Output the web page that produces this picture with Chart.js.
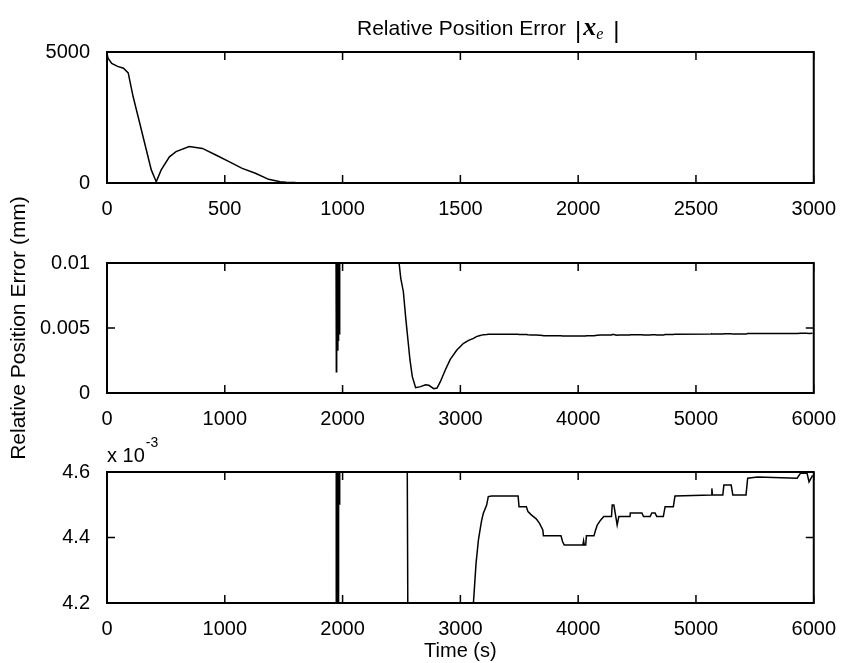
<!DOCTYPE html>
<html>
<head>
<meta charset="utf-8">
<script src="https://cdn.jsdelivr.net/npm/chart.js@4/dist/chart.umd.min.js"></script>
<style>
body { margin: 0; background: #fff; }
#wrap { position: relative; width: 842px; height: 663px; }
#wrap canvas { position: absolute; left: 0; top: 0; }
</style>
</head>
<body>
<div id="wrap">
<canvas id="topChart" width="842" height="663"></canvas>
<canvas id="midChart" width="842" height="663"></canvas>
<canvas id="lowChart" width="842" height="663"></canvas>
</div>
<script>
// one time series (s) and its error (mm), shown at three zoom levels
var timeS = [
    0, 5, 20, 45, 70, 90, 111, 139, 167, 188, 209, 230, 265, 293, 349, 405, 462, 518, 574, 630, 686, 735,
    760, 800, 900, 1000, 1200, 1500, 1800, 1940,
    1944, 1947, 1950, 1955, 1960, 1966, 1970, 1974, 1977,
    2100, 2300, 2470,
    2480, 2494, 2516, 2535, 2555, 2572, 2592, 2620, 2662, 2704, 2732, 2774, 2802, 2830, 2872, 2914, 2970, 3027, 3070, 3111,
    3133, 3153, 3167, 3181, 3195, 3223, 3237, 3265, 3490, 3498, 3560, 3574, 3602, 3644, 3672, 3700, 3705, 3854, 3868, 3882,
    4040, 4046, 4052, 4064, 4070, 4134, 4148, 4162, 4190, 4218, 4283, 4289, 4303, 4317, 4331, 4345, 4440, 4443, 4541, 4555,
    4611, 4625, 4653, 4667, 4723, 4738, 4808, 4822, 5131, 5135, 5140, 5228, 5237, 5299, 5313, 5425, 5439, 5523, 5859, 5887,
    5943, 5960, 5990
]
var errorMm = [
    4950, 4750, 4560, 4450, 4380, 4200, 3290, 2280, 1260, 500, 50, 500, 1000, 1200, 1390, 1320, 1070, 815, 560, 370, 140, 50,
    30, 15, 5, 2, 0.6, 0.15, 0.04, 0.02,
    0.012, 0.00164, 0.012, 0.0033, 0.012, 0.004, 0.012, 0.0045, 0.012,
    0.015, 0.013, 0.0105,
    0.00998, 0.00882, 0.00779, 0.00587, 0.00408, 0.00254, 0.00126, 0.00041, 0.00049, 0.00064, 0.00059, 0.00033, 0.00038, 0.00087, 0.00177, 0.00259, 0.00331, 0.00382, 0.00405, 0.004201,
    0.004321, 0.004392, 0.004423, 0.004453, 0.004474, 0.004499, 0.004525, 0.004527, 0.004527, 0.004494, 0.004494, 0.004479, 0.004469, 0.004457, 0.004443, 0.004423, 0.004405, 0.004405, 0.004387, 0.004377,
    0.004377, 0.00439, 0.004377, 0.004377, 0.004405, 0.004405, 0.004423, 0.004438, 0.004453, 0.004464, 0.004464, 0.004499, 0.004499, 0.004469, 0.004438, 0.004464, 0.004464, 0.004475, 0.004475, 0.004464,
    0.004464, 0.004475, 0.004475, 0.004464, 0.004464, 0.004494, 0.004494, 0.004527, 0.00453, 0.00455, 0.00453, 0.00453, 0.00456, 0.00456, 0.00453, 0.00453, 0.004581, 0.004585, 0.004581, 0.004596,
    0.004596, 0.00457, 0.00459
]

var xTicksTop = [0, 500, 1000, 1500, 2000, 2500, 3000]
var xTicksLong = [0, 1000, 2000, 3000, 4000, 5000, 6000]
var yTicksTop = [0, 5000]
var yTicksMid = [0, 0.005, 0.01]
var yTicksLow = [0.0042, 0.0044, 0.0046]

var yTitle = 'Relative Position Error (mm)'
var xTitle = 'Time (s)'
var mainTitle = 'Relative Position Error'

var sans = '"Liberation Sans", Arial, sans-serif'
Chart.defaults.font.family = sans
Chart.defaults.color = '#000'

var matlabBox = {
    id: 'matlabBox',
    afterDatasetsDraw: function (chart) {
        var ctx = chart.ctx, a = chart.chartArea
        var xs = chart.scales.x, ys = chart.scales.y
        ctx.save()
        ctx.strokeStyle = '#000'
        ctx.lineWidth = 1.5
        ctx.beginPath()
        xs.ticks.forEach(function (t) {
            var p = xs.getPixelForValue(t.value)
            ctx.moveTo(p, a.bottom); ctx.lineTo(p, a.bottom - 8)
            ctx.moveTo(p, a.top); ctx.lineTo(p, a.top + 8)
        })
        ys.ticks.forEach(function (t) {
            var p = ys.getPixelForValue(t.value)
            ctx.moveTo(a.left, p); ctx.lineTo(a.left + 8, p)
            ctx.moveTo(a.right, p); ctx.lineTo(a.right - 8, p)
        })
        ctx.stroke()
        ctx.lineWidth = 2
        ctx.strokeRect(a.left, a.top, a.right - a.left, a.bottom - a.top)
        ctx.restore()
    }
}

var titleText = {
    id: 'titleText',
    afterDraw: function (chart) {
        var ctx = chart.ctx, a = chart.chartArea
        var x = a.left + 250, base = a.top - 17
        ctx.save()
        ctx.fillStyle = '#000'
        ctx.textBaseline = 'alphabetic'
        ctx.font = '21px ' + sans
        ctx.fillText(mainTitle, x, base)
        x += ctx.measureText(mainTitle).width + 9
        ctx.font = '24px ' + sans
        ctx.fillText('|', x, base + 3)
        x += ctx.measureText('|').width + 2
        ctx.font = 'bold italic 26px "Liberation Serif", serif'
        ctx.fillText('x', x, base)
        x += ctx.measureText('x').width
        ctx.font = 'italic 16px "Liberation Serif", serif'
        ctx.fillText('e', x, base + 4)
        x += ctx.measureText('e').width + 10
        ctx.font = '24px ' + sans
        ctx.fillText('|', x, base + 3)
        ctx.restore()
    }
}

var exponentText = {
    id: 'exponentText',
    afterDraw: function (chart) {
        var ctx = chart.ctx, a = chart.chartArea
        ctx.save()
        ctx.fillStyle = '#000'
        ctx.textBaseline = 'alphabetic'
        ctx.font = '20px ' + sans
        ctx.fillText('x 10', a.left, a.top - 10)
        var w = ctx.measureText('x 10').width
        ctx.font = '14px ' + sans
        ctx.fillText('-3', a.left + w + 1, a.top - 25)
        ctx.restore()
    }
}

function makePanel(canvasId, p) {
    var points = timeS.map(function (t, i) { return {x: t, y: errorMm[i]} })
    return new Chart(document.getElementById(canvasId), {
        type: 'line',
        data: {
            datasets: [{
                data: points,
                borderColor: '#000',
                borderWidth: 1.5,
                pointRadius: 0,
                tension: 0
            }]
        },
        options: {
            responsive: false,
            animation: false,
            events: [],
            layout: {padding: {left: 0, right: 22, top: p.top, bottom: 663 - p.bottom - p.xHeight}},
            plugins: {legend: {display: false}, tooltip: {enabled: false}},
            scales: {
                x: {
                    type: 'linear',
                    min: 0,
                    max: p.xMax,
                    grid: {display: false},
                    border: {display: false},
                    afterBuildTicks: function (s) { s.ticks = p.xTicks.map(function (v) { return {value: v} }) },
                    afterFit: function (s) { s.height = p.xHeight },
                    ticks: {
                        font: {size: 20},
                        padding: 6,
                        maxRotation: 0,
                        callback: function (v) { return String(v) }
                    },
                    title: {display: !!p.xTitle, text: p.xTitle || '', font: {size: 20}, padding: {top: 0, bottom: 0}}
                },
                y: {
                    type: 'linear',
                    min: p.yMin,
                    max: p.yMax,
                    grid: {display: false},
                    border: {display: false},
                    afterBuildTicks: function (s) { s.ticks = p.yTicks.map(function (v) { return {value: v} }) },
                    afterFit: function (s) { s.width = 107 },
                    ticks: {
                        font: {size: 20},
                        padding: 9,
                        callback: p.yFormat
                    },
                    title: {display: !!p.yTitle, text: p.yTitle || '', font: {size: 21}, padding: {top: 7, bottom: 0}}
                }
            }
        },
        plugins: [matlabBox].concat(p.extra || [])
    })
}

makePanel('topChart', {
    top: 52, bottom: 183, xHeight: 40, xMax: 3000, xTicks: xTicksTop,
    yMin: 0, yMax: 5000, yTicks: yTicksTop,
    yFormat: function (v) { return String(v) },
    extra: [titleText]
})

makePanel('midChart', {
    top: 263, bottom: 393, xHeight: 40, xMax: 6000, xTicks: xTicksLong,
    yMin: 0, yMax: 0.01, yTicks: yTicksMid,
    yFormat: function (v) { return v === 0 ? '0' : String(+v.toFixed(3)) },
    yTitle: yTitle
})

makePanel('lowChart', {
    top: 472, bottom: 603, xHeight: 60, xMax: 6000, xTicks: xTicksLong,
    yMin: 0.0042, yMax: 0.0046, yTicks: yTicksLow,
    yFormat: function (v) { return (v * 1000).toFixed(1) },
    xTitle: xTitle,
    extra: [exponentText]
})
</script>
</body>
</html>
